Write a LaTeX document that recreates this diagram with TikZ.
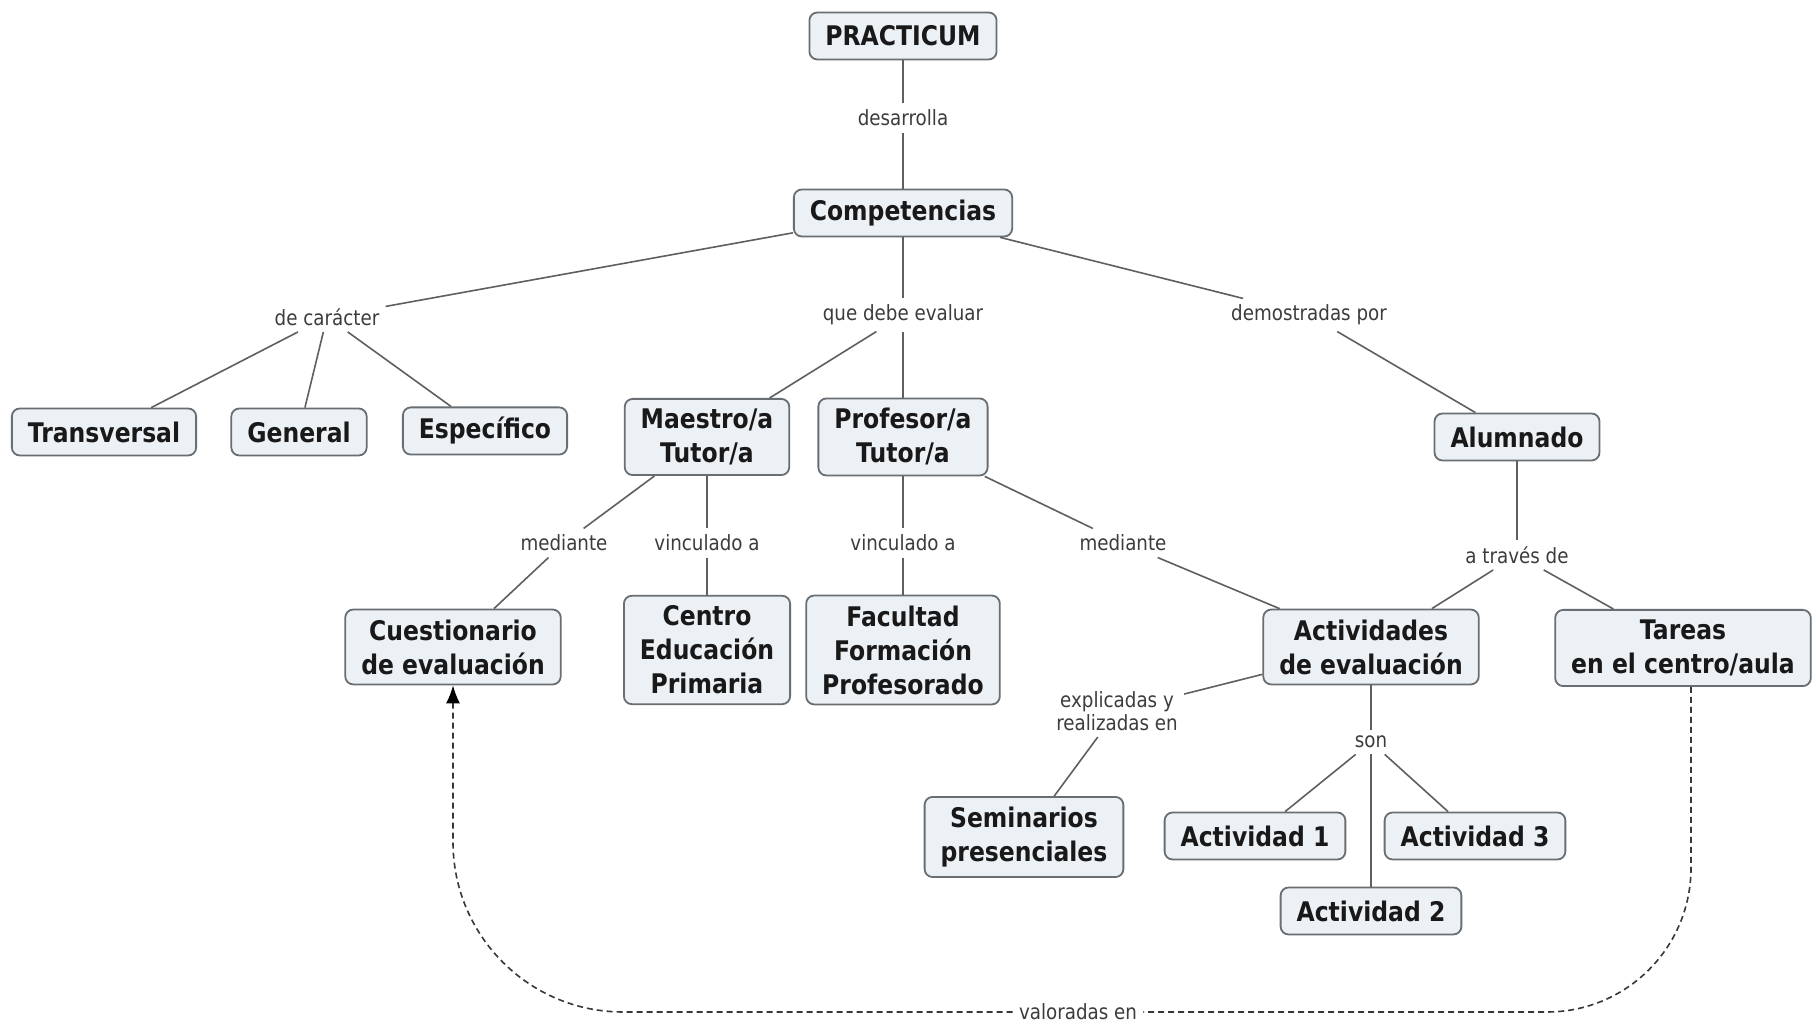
\documentclass[tikz,border=0pt]{standalone}
\usepackage{fontspec}
\setmainfont{DejaVu Sans}[FakeStretch=0.87]
\usetikzlibrary{arrows.meta}
\begin{document}
\begin{tikzpicture}[x=1pt,y=1pt,
  concept/.style={draw=borderColor,fill=boxColor,line width=0.9pt,rounded corners=4pt,
    text=textColor,font=\fontsize{13.5}{17}\selectfont\bfseries,align=center,
    inner xsep=8pt,inner ysep=5pt,minimum height=23.5pt},
  linkname/.style={text=labelColor,font=\fontsize{10.5}{11.5}\selectfont,align=center,inner sep=3pt},
  link/.style={draw=lineColor,line width=0.8pt},
  dashlink/.style={link,draw=dashColor,dash pattern=on 3pt off 2pt}]
\definecolor{fillColor}{RGB}{255,255,255}
\definecolor{boxColor}{RGB}{236,241,245}
\definecolor{borderColor}{RGB}{105,110,115}
\definecolor{textColor}{RGB}{25,25,25}
\definecolor{labelColor}{RGB}{60,60,60}
\definecolor{lineColor}{RGB}{95,95,95}
\definecolor{dashColor}{RGB}{55,55,55}
\path[use as bounding box,fill=fillColor] (0,0) rectangle (908,513);

% concepts
\node[concept] (practicum) at (451.5,495.0) {PRACTICUM};

\node[concept] (comp) at (451.5,406.5) {Competencias};

\node[concept] (transversal) at ( 52.0,297.0) {Transversal};

\node[concept] (general) at (149.5,297.0) {General};

\node[concept] (especifico) at (242.5,297.5) {Específico};

\node[concept] (maestro) at (353.5,294.5) {Maestro/a\\Tutor/a};

\node[concept] (profesor) at (451.5,294.5) {Profesor/a\\Tutor/a};

\node[concept] (alumnado) at (758.5,294.5) {Alumnado};

\node[concept] (cuest) at (226.5,189.5) {Cuestionario\\de evaluación};

\node[concept] (centro) at (353.5,188.0) {Centro\\Educación\\Primaria};

\node[concept] (facultad) at (451.5,188.0) {Facultad\\Formación\\Profesorado};

\node[concept] (actividades) at (685.5,189.5) {Actividades\\de evaluación};

\node[concept] (tareas) at (841.5,189.0) {Tareas\\en el centro/aula};

\node[concept] (seminarios) at (512.0, 94.5) {Seminarios\\presenciales};

\node[concept] (act1) at (627.5, 95.0) {Actividad 1};

\node[concept] (act3) at (737.5, 95.0) {Actividad 3};

\node[concept] (act2) at (685.5, 57.5) {Actividad 2};

% linking phrases
\node[linkname] (desarrolla) at (451.5,454.0) {desarrolla};

\node[linkname] (caracter) at (163.5,354.5) {de carácter};

\node[linkname] (evaluar) at (451.5,355.5) {que debe evaluar};

\node[linkname] (demostradas) at (654.5,355.5) {demostradas por};

\node[linkname] (medianteA) at (282.0,241.5) {mediante};

\node[linkname] (vinculadoA) at (353.5,241.5) {vinculado a};

\node[linkname] (vinculadoB) at (451.5,241.5) {vinculado a};

\node[linkname] (medianteB) at (561.5,241.5) {mediante};

\node[linkname] (traves) at (758.5,235.5) {a través de};

\node[linkname] (explicadas) at (558.5,157.5) {explicadas y\\realizadas en};

\node[linkname] (son) at (685.5,142.0) {son};

\node[linkname] (valoradas) at (539.0,  7.0) {valoradas en};

% connectors
\path[link] (practicum) -- (desarrolla) -- (comp);

\path[link] (comp) -- (caracter);
\path[link] (caracter) -- (transversal);
\path[link] (caracter) -- (general);
\path[link] (caracter) -- (especifico);

\path[link] (comp) -- (evaluar);
\path[link] (evaluar) -- (maestro);
\path[link] (evaluar) -- (profesor);

\path[link] (comp) -- (demostradas) -- (alumnado);

\path[link] (maestro) -- (medianteA) -- (cuest);
\path[link] (maestro) -- (vinculadoA) -- (centro);
\path[link] (profesor) -- (vinculadoB) -- (facultad);
\path[link] (profesor) -- (medianteB) -- (actividades);

\path[link] (alumnado) -- (traves);
\path[link] (traves) -- (actividades);
\path[link] (traves) -- (tareas);

\path[link] (actividades) -- (explicadas) -- (seminarios);

\path[link] (actividades) -- (son);
\path[link] (son) -- (act1);
\path[link] (son) -- (act2);
\path[link] (son) -- (act3);

% valoradas en
\path[dashlink,rounded corners=72pt] ([xshift=4pt]tareas.south) |- (valoradas.east);
\path[dashlink,rounded corners=85pt,-{Latex[length=9pt,width=7pt,fill=black,color=black]}] (valoradas.west) -| (cuest.south);
\end{tikzpicture}
\end{document}
